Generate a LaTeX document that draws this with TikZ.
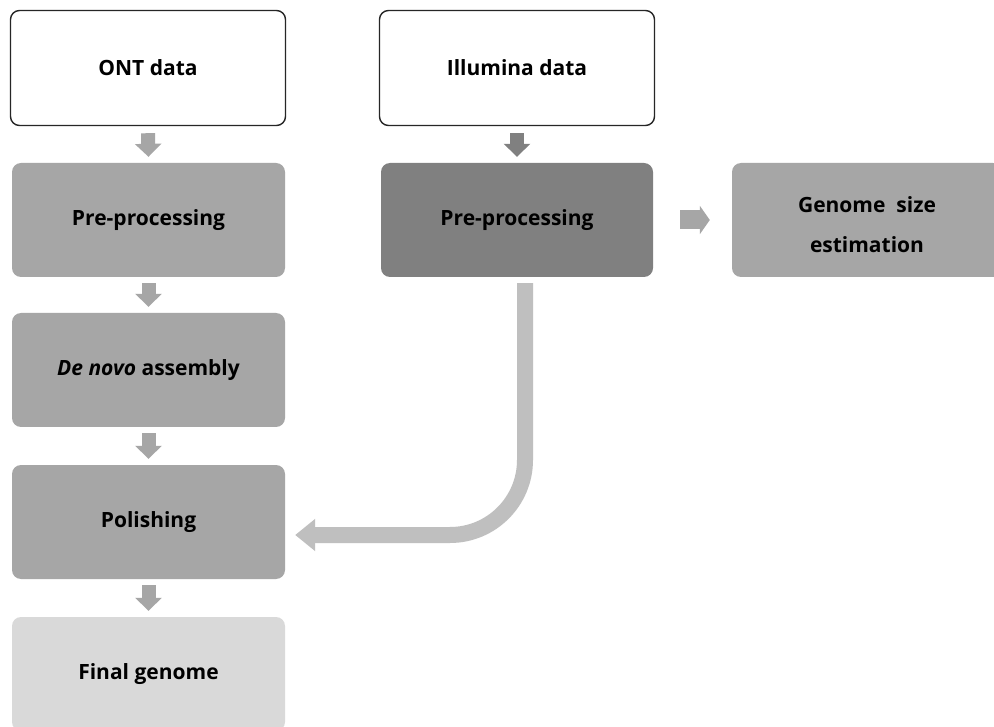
\documentclass[tikz,border=0pt]{standalone}
\usepackage{fontspec}
\setmainfont{Open Sans}
\usetikzlibrary{arrows.meta}
\definecolor{boxgray}{HTML}{A6A6A6}
\definecolor{darkgray2}{HTML}{808080}
\definecolor{lightgray2}{HTML}{D9D9D9}
\definecolor{curvegray}{HTML}{BFBFBF}
\definecolor{outline}{HTML}{262626}
\tikzset{
  box/.style={rectangle, rounded corners=9pt, minimum width=273pt, minimum height=114pt,
    inner sep=0pt, font=\fontsize{21}{40}\selectfont\bfseries, align=center, text=black},
  whitebox/.style={box, fill=white, draw=outline, line width=1.4pt, minimum width=275pt, minimum height=115pt},
  graybox/.style={box, fill=boxgray},
  downarr/.style={draw=#1, line width=14pt, line cap=butt, -{Triangle[width=26pt,length=13pt]}},
  rightarr/.style={draw=boxgray, line width=19pt, line cap=butt, -{Triangle[width=28pt,length=10pt]}},
  curvarr/.style={draw=curvegray, line width=16pt, line cap=butt, rounded corners=75pt, -{Triangle[width=31pt,length=20pt]}}
}
\begin{document}
\begin{tikzpicture}[x=1pt,y=-1pt]
\clip (0,0) rectangle (994,727);
\fill[white] (0,0) rectangle (994,727);
\node[whitebox] (ont) at (148,68) {ONT data};
\node[whitebox] (ill) at (517,68) {Illumina data};
\node[graybox] (opre) at (148.5,220) {Pre-processing};
\node[box, fill=darkgray2, minimum width=272pt] (ipre) at (517,220) {Pre-processing};
\node[graybox, minimum width=270pt] (gen) at (867,220)
  {\raisebox{-5pt}[\height][\depth]{\begin{tabular}{@{}c@{}}Genome\ \ size\\estimation\end{tabular}}};
\node[graybox] (denovo) at (148.5,370) {\textit{De novo} assembly};
\node[graybox] (pol) at (148.5,522) {Polishing};
\node[box, fill=lightgray2] (final) at (148.5,674) {Final genome};
\draw[downarr=boxgray] ([yshift=-7pt]ont.south) -- ([yshift=6pt]opre.north);
\draw[downarr=darkgray2] ([yshift=-7pt]ill.south) -- ([yshift=6pt]ipre.north);
\draw[downarr=boxgray] ([yshift=-6pt]opre.south) -- ([yshift=6pt]denovo.north);
\draw[downarr=boxgray] ([yshift=-6pt]denovo.south) -- ([yshift=6pt]pol.north);
\draw[downarr=boxgray] ([yshift=-6pt]pol.south) -- ([yshift=6pt]final.north);
\draw[rightarr] ([xshift=27pt]ipre.east) -- ([xshift=-22pt]gen.west);
\draw[curvarr] ([xshift=8pt,yshift=-6pt]ipre.south) |- ([xshift=10pt,yshift=-13pt]pol.east);
\end{tikzpicture}
\end{document}
